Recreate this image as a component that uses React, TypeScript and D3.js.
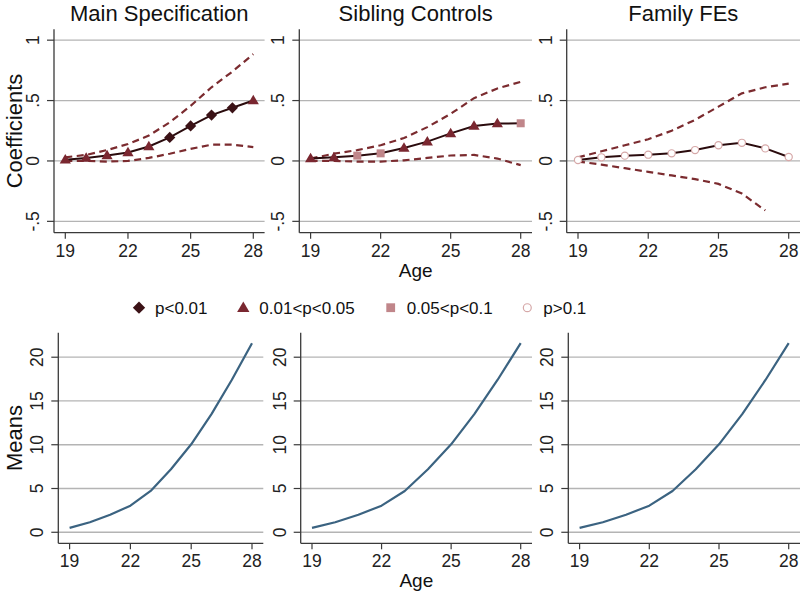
import React from "react";
import * as d3 from "d3";

const ages = [19, 20, 21, 22, 23, 24, 25, 26, 27, 28];
const xTicks = [19, 22, 25, 28];
const coefTicks = [-0.5, 0, 0.5, 1];
const coefTickLabels = ["-.5", "0", ".5", "1"];
const meanTicks = [0, 5, 10, 15, 20];
const meanTickLabels = ["0", "5", "10", "15", "20"];

const panelTitles = ["Main Specification", "Sibling Controls", "Family FEs"];

const mainCoef = [0.01, 0.025, 0.045, 0.07, 0.12, 0.195, 0.29, 0.38, 0.44, 0.5];
const mainUpper = [0.03, 0.05, 0.09, 0.14, 0.21, 0.32, 0.456, 0.61, 0.74, 0.885];
const mainLower = [0.0, 0.0, -0.005, 0.0, 0.025, 0.06, 0.1, 0.135, 0.135, 0.115];
const mainSig = ["t", "t", "t", "t", "t", "d", "d", "d", "d", "t"];

const sibCoef = [0.02, 0.03, 0.044, 0.063, 0.107, 0.16, 0.228, 0.29, 0.31, 0.312];
const sibUpper = [0.02, 0.06, 0.09, 0.13, 0.19, 0.28, 0.39, 0.52, 0.6, 0.655];
const sibLower = [0.0, 0.0, -0.005, -0.005, 0.005, 0.025, 0.045, 0.05, 0.02, -0.035];
const sibSig = ["t", "t", "s", "s", "t", "t", "t", "t", "t", "s"];

const famCoef = [0.008, 0.03, 0.044, 0.052, 0.063, 0.09, 0.13, 0.15, 0.104, 0.033];
const famUpper = [0.03, 0.08, 0.13, 0.18, 0.25, 0.34, 0.45, 0.56, 0.61, 0.64];
const famLower = [-0.005, -0.03, -0.06, -0.09, -0.12, -0.15, -0.19, -0.27, -0.41, null];
const famSig = ["c", "c", "c", "c", "c", "c", "c", "c", "c", "c"];

const means = [0.5, 1.15, 2.0, 3.04, 4.72, 7.2, 10.05, 13.5, 17.4, 21.6];

const legendKeys = ["d", "t", "s", "c"];
const legendLabels = ["p<0.01", "0.01<p<0.05", "0.05<p<0.1", "p>0.1"];

const FONT = "'Liberation Sans', Arial, sans-serif";
const GRID = "#b4b4b4";
const AXIS = "#3a3a3a";
const LINE = "#2a0b0d";
const DASH = "#7b2b2f";
const MEANC = "#3b6381";
const markerColor: Record<string, string> = {
  d: "#3b1216",
  t: "#7a2730",
  s: "#c0868a",
  c: "#d6a8a8",
};

function Marker({ kind, x, y, scale = 1 }: { kind: string; x: number; y: number; scale?: number }) {
  const c = markerColor[kind];
  if (kind === "d") {
    const r = 5.6 * scale;
    return <path d={`M${x},${y - r}L${x + r},${y}L${x},${y + r}L${x - r},${y}Z`} fill={c} />;
  }
  if (kind === "t") {
    const h = 9.5 * scale;
    const w = 5.6 * scale;
    return <path d={`M${x},${y - h * 0.6}L${x + w},${y + h * 0.4}L${x - w},${y + h * 0.4}Z`} fill={c} />;
  }
  if (kind === "s") {
    const s = 4 * scale;
    return <rect x={x - s} y={y - s} width={2 * s} height={2 * s} fill={c} />;
  }
  return <circle cx={x} cy={y} r={3.6 * scale} fill="#fff" stroke={c} strokeWidth={1.2} />;
}

type Box = { left: number; right: number; top: number; bottom: number };

function Frame({
  box,
  y,
  ticks,
  labels,
  title,
  yTitle,
  xTitle,
  x,
}: {
  box: Box;
  y: d3.ScaleLinear<number, number>;
  x: d3.ScaleLinear<number, number>;
  ticks: number[];
  labels: string[];
  title?: string;
  yTitle?: string;
  xTitle?: string;
}) {
  const cx = (box.left + box.right) / 2;
  const cy = (box.top + box.bottom) / 2;
  return (
    <g>
      {ticks.map((t, i) => (
        <g key={t}>
          <line x1={box.left} x2={box.right} y1={y(t)} y2={y(t)} stroke={GRID} strokeWidth={1.3} />
          <line x1={box.left - 7} x2={box.left} y1={y(t)} y2={y(t)} stroke={AXIS} strokeWidth={1.2} />
          <text
            transform={`translate(${box.left - 15},${y(t)}) rotate(-90)`}
            textAnchor="middle"
            fontSize={17.5}
            fontFamily={FONT}
            fill="#222"
          >
            {labels[i]}
          </text>
        </g>
      ))}
      {xTicks.map((t) => (
        <g key={t}>
          <line x1={x(t)} x2={x(t)} y1={box.bottom} y2={box.bottom + 6} stroke={AXIS} strokeWidth={1.2} />
          <text x={x(t)} y={box.bottom + 24} textAnchor="middle" fontSize={17.5} fontFamily={FONT} fill="#222">
            {t}
          </text>
        </g>
      ))}
      <line x1={box.left} x2={box.left} y1={box.top} y2={box.bottom} stroke={AXIS} strokeWidth={1.3} />
      <line x1={box.left} x2={box.right} y1={box.bottom} y2={box.bottom} stroke={AXIS} strokeWidth={1.3} />
      {title && (
        <text x={cx} y={box.top - 8} textAnchor="middle" fontSize={22} fontFamily={FONT} fill="#111">
          {title}
        </text>
      )}
      {yTitle && (
        <text
          transform={`translate(${21.5},${cy}) rotate(-90)`}
          textAnchor="middle"
          fontSize={22}
          fontFamily={FONT}
          fill="#111"
        >
          {yTitle}
        </text>
      )}
      {xTitle && (
        <text x={cx} y={box.bottom + 44} textAnchor="middle" fontSize={19} fontFamily={FONT} fill="#111">
          {xTitle}
        </text>
      )}
    </g>
  );
}

function xScale(box: Box) {
  const pad = 11.3;
  return d3.scaleLinear().domain([19, 28]).range([box.left + pad, box.right - pad]);
}

function CoefPanel({
  box,
  coef,
  upper,
  lower,
  sig,
  title,
  yTitle,
  xTitle,
}: {
  box: Box;
  coef: number[];
  upper: (number | null)[];
  lower: (number | null)[];
  sig: string[];
  title: string;
  yTitle?: string;
  xTitle?: string;
}) {
  const x = xScale(box);
  const y = d3.scaleLinear().domain([-0.594, 1.09]).range([box.bottom, box.top]);
  const line = d3
    .line<number | null>()
    .defined((d) => d !== null)
    .x((_, i) => x(ages[i]))
    .y((d) => y(d as number));
  return (
    <g>
      <Frame box={box} x={x} y={y} ticks={coefTicks} labels={coefTickLabels} title={title} yTitle={yTitle} xTitle={xTitle} />
      <path d={line(upper) || ""} fill="none" stroke={DASH} strokeWidth={2.2} strokeDasharray="7,4.5" />
      <path d={line(lower) || ""} fill="none" stroke={DASH} strokeWidth={2.2} strokeDasharray="7,4.5" />
      <path d={line(coef) || ""} fill="none" stroke={LINE} strokeWidth={2} />
      {coef.map((v, i) => (
        <Marker key={i} kind={sig[i]} x={x(ages[i])} y={y(v)} />
      ))}
    </g>
  );
}

function MeanPanel({ box, yTitle, xTitle }: { box: Box; yTitle?: string; xTitle?: string }) {
  const x = xScale(box);
  const y = d3.scaleLinear().domain([-1.26, 22.8]).range([box.bottom, box.top]);
  const line = d3
    .line<number>()
    .x((_, i) => x(ages[i]))
    .y((d) => y(d));
  return (
    <g>
      <Frame box={box} x={x} y={y} ticks={meanTicks} labels={meanTickLabels} yTitle={yTitle} xTitle={xTitle} />
      <path d={line(means) || ""} fill="none" stroke={MEANC} strokeWidth={2.2} strokeLinejoin="round" />
    </g>
  );
}

export default function App() {
  const topBoxes: Box[] = [
    { left: 54, right: 264.6, top: 29.3, bottom: 232.7 },
    { left: 299.3, right: 532, top: 29.3, bottom: 232.7 },
    { left: 566.7, right: 800, top: 29.3, bottom: 232.7 },
  ];
  const botBoxes: Box[] = [
    { left: 58.3, right: 263.3, top: 332.7, bottom: 543.3 },
    { left: 300.7, right: 532, top: 332.7, bottom: 543.3 },
    { left: 568.3, right: 800, top: 332.7, bottom: 543.3 },
  ];
  const coefs = [mainCoef, sibCoef, famCoef];
  const uppers = [mainUpper, sibUpper, famUpper];
  const lowers = [mainLower, sibLower, famLower];
  const sigs = [mainSig, sibSig, famSig];
  const legendX = [139, 243.3, 390.7, 527.3];
  const legendY = 307.7;
  return (
    <svg width={800} height={593} style={{ position: "absolute", left: 0, top: 0, background: "#fff" }}>
      <rect width={800} height={593} fill="#fff" />
      {topBoxes.map((b, i) => (
        <CoefPanel
          key={i}
          box={b}
          coef={coefs[i]}
          upper={uppers[i]}
          lower={lowers[i]}
          sig={sigs[i]}
          title={panelTitles[i]}
          yTitle={i === 0 ? "Coefficients" : undefined}
          xTitle={i === 1 ? "Age" : undefined}
        />
      ))}
      {legendKeys.map((k, i) => (
        <g key={k}>
          <Marker kind={k} x={legendX[i]} y={legendY} scale={1.1} />
          <text x={legendX[i] + 16} y={legendY + 6} fontSize={17} fontFamily={FONT} fill="#111">
            {legendLabels[i]}
          </text>
        </g>
      ))}
      {botBoxes.map((b, i) => (
        <MeanPanel key={i} box={b} yTitle={i === 0 ? "Means" : undefined} xTitle={i === 1 ? "Age" : undefined} />
      ))}
    </svg>
  );
}
